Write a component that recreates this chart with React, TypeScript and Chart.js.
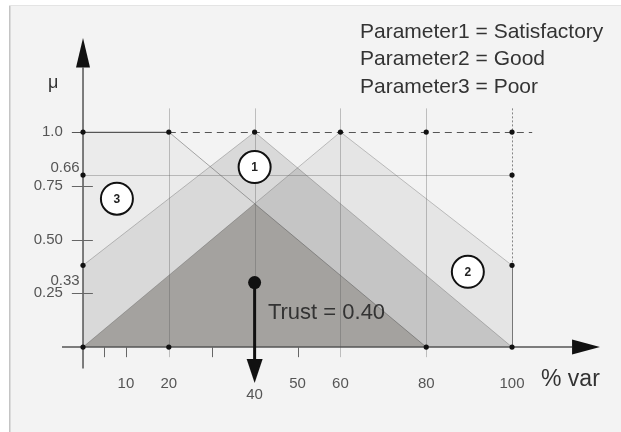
import { useEffect, useRef } from "react";
import { Chart, registerables } from "chart.js";
Chart.register(...registerables);

// Membership functions (x = % var, y = μ)
const poorX = [0, 20, 80];
const poorY = [1, 1, 0];
const satX = [0, 40, 100];
const satY = [0.38, 1, 0];
const goodX = [0, 60, 100];
const goodY = [0, 1, 0.38];

const xLabelValues = [10, 20, 40, 50, 60, 80, 100];
const xLabelTexts = ["10", "20", "40", "50", "60", "80", "100"];
const xMinorTicks = [5, 10, 30, 50];
const xGridValues = [20, 40, 60, 80];
const yTickValues = [1, 0.75, 0.5, 0.25];
const yTickLabels = ["1.0", "0.75", "0.50", "0.25"];
const yMarkValues = [0.835, 0.31];
const yMarkLabels = ["0.66", "0.33"];
const refLineY = 0.8;
const dotX = [0, 20, 40, 60, 80, 100, 0, 100, 0, 100, 0, 20, 80, 100];
const dotY = [1, 1, 1, 1, 1, 1, 0.8, 0.8, 0.38, 0.38, 0, 0, 0, 0];
const trustX = 40;
const trustY = 0.3;
const trustTip = -0.167;
const trustLabel = "Trust = 0.40";
const circleLabels = ["1", "2", "3"];
const circleX = [40, 89.7, 7.9];
const circleY = [0.837, 0.35, 0.69];
const legendLines = ["Parameter1 = Satisfactory", "Parameter2 = Good", "Parameter3 = Poor"];

type P = { x: number; y: number };

function evalFn(xs: number[], ys: number[], x: number): number {
  if (x < xs[0] || x > xs[xs.length - 1]) return 0;
  for (let i = 0; i < xs.length - 1; i++) {
    if (x >= xs[i] && x <= xs[i + 1]) {
      const t = (x - xs[i]) / (xs[i + 1] - xs[i]);
      return ys[i] + t * (ys[i + 1] - ys[i]);
    }
  }
  return 0;
}

// exact lower envelope (intersection region) of several piecewise-linear memberships
function minPolygon(fns: [number[], number[]][], lo: number, hi: number): P[] {
  const f = (x: number) => Math.min(...fns.map(([xs, ys]) => evalFn(xs, ys, x)));
  let bps: number[] = [lo, hi];
  fns.forEach(([xs]) => xs.forEach((x) => { if (x >= lo && x <= hi) bps.push(x); }));
  bps = Array.from(new Set(bps)).sort((a, b) => a - b);
  const extra: number[] = [];
  for (let i = 0; i < bps.length - 1; i++) {
    const a = bps[i], b = bps[i + 1];
    for (let p = 0; p < fns.length; p++) {
      for (let q = p + 1; q < fns.length; q++) {
        const da = evalFn(fns[p][0], fns[p][1], a) - evalFn(fns[q][0], fns[q][1], a);
        const db = evalFn(fns[p][0], fns[p][1], b) - evalFn(fns[q][0], fns[q][1], b);
        if (da * db < 0) extra.push(a + (b - a) * (da / (da - db)));
      }
    }
  }
  const all = Array.from(new Set(bps.concat(extra))).sort((a, b) => a - b);
  return all.map((x) => ({ x, y: f(x) }));
}

const toPts = (xs: number[], ys: number[]): P[] => xs.map((x, i) => ({ x, y: ys[i] }));

const FONT = '"Liberation Sans", Arial, sans-serif';

const decor = {
  id: "decor",
  beforeDraw(chart: any) {
    const ctx = chart.ctx;
    const { width, height } = chart;
    ctx.save();
    ctx.fillStyle = "#ffffff";
    ctx.fillRect(0, 0, width, height);
    ctx.fillStyle = "#f3f3f3";
    ctx.fillRect(9, 5, width - 9, height - 5);
    ctx.fillStyle = "#c4c4c4";
    ctx.fillRect(9, 5, 1.5, height - 5);
    ctx.fillStyle = "#e4e4e4";
    ctx.fillRect(9, 5, width - 9, 1);
    ctx.restore();
  },
  afterDatasetsDraw(chart: any) {
    const ctx = chart.ctx;
    const xs = chart.scales.x;
    const ys = chart.scales.y;
    const px = (v: number) => xs.getPixelForValue(v);
    const py = (v: number) => ys.getPixelForValue(v);
    ctx.save();

    // vertical grid lines
    ctx.strokeStyle = "rgba(90,90,90,0.35)";
    ctx.lineWidth = 1;
    xGridValues.forEach((v) => {
      ctx.beginPath();
      ctx.moveTo(Math.round(px(v)) + 0.5, py(1.11));
      ctx.lineTo(Math.round(px(v)) + 0.5, py(-0.047));
      ctx.stroke();
    });
    // x = 100 dotted above, solid below
    ctx.setLineDash([2, 2]);
    ctx.strokeStyle = "rgba(60,60,60,0.6)";
    ctx.beginPath();
    ctx.moveTo(Math.round(px(100)) + 0.5, py(1.11));
    ctx.lineTo(Math.round(px(100)) + 0.5, py(goodY[2]));
    ctx.stroke();
    ctx.setLineDash([]);
    ctx.strokeStyle = "#777";
    ctx.beginPath();
    ctx.moveTo(Math.round(px(100)) + 0.5, py(goodY[2]));
    ctx.lineTo(Math.round(px(100)) + 0.5, py(0));
    ctx.stroke();

    // reference horizontal line
    ctx.strokeStyle = "rgba(90,90,90,0.35)";
    ctx.beginPath();
    ctx.moveTo(px(0), Math.round(py(refLineY)) + 0.5);
    ctx.lineTo(px(100), Math.round(py(refLineY)) + 0.5);
    ctx.stroke();

    // y = 1 line: solid then dashed
    ctx.strokeStyle = "#555";
    ctx.beginPath();
    ctx.moveTo(px(-2.6), Math.round(py(1)) + 0.5);
    ctx.lineTo(px(20), Math.round(py(1)) + 0.5);
    ctx.stroke();
    ctx.setLineDash([7, 5]);
    ctx.beginPath();
    ctx.moveTo(px(20), Math.round(py(1)) + 0.5);
    ctx.lineTo(px(104.7), Math.round(py(1)) + 0.5);
    ctx.stroke();
    ctx.setLineDash([]);

    // axes
    ctx.strokeStyle = "#555";
    ctx.fillStyle = "#111";
    ctx.lineWidth = 1.5;
    ctx.beginPath();
    ctx.moveTo(px(0), py(-0.1));
    ctx.lineTo(px(0), py(1.3));
    ctx.stroke();
    ctx.beginPath();
    ctx.moveTo(px(0), py(1.437));
    ctx.lineTo(px(0) - 7, py(1.3));
    ctx.lineTo(px(0) + 7, py(1.3));
    ctx.closePath();
    ctx.fill();
    ctx.beginPath();
    ctx.moveTo(px(-4.9), py(0));
    ctx.lineTo(px(114), py(0));
    ctx.stroke();
    ctx.beginPath();
    ctx.moveTo(px(120.5), py(0));
    ctx.lineTo(px(114), py(0) - 7.5);
    ctx.lineTo(px(114), py(0) + 7.5);
    ctx.closePath();
    ctx.fill();

    // y ticks
    ctx.lineWidth = 1;
    ctx.strokeStyle = "#666";
    yTickValues.slice(1).forEach((v) => {
      ctx.beginPath();
      ctx.moveTo(px(-2.6), Math.round(py(v)) + 0.5);
      ctx.lineTo(px(2.3), Math.round(py(v)) + 0.5);
      ctx.stroke();
    });
    // x minor ticks
    xMinorTicks.forEach((v) => {
      ctx.beginPath();
      ctx.moveTo(Math.round(px(v)) + 0.5, py(0));
      ctx.lineTo(Math.round(px(v)) + 0.5, py(-0.047));
      ctx.stroke();
    });

    // dots
    ctx.fillStyle = "#111";
    dotX.forEach((x, i) => {
      ctx.beginPath();
      ctx.arc(px(x), py(dotY[i]), 2.6, 0, Math.PI * 2);
      ctx.fill();
    });

    // trust arrow
    ctx.strokeStyle = "#111";
    ctx.lineWidth = 3;
    ctx.beginPath();
    ctx.moveTo(px(trustX), py(trustY));
    ctx.lineTo(px(trustX), py(trustTip) - 20);
    ctx.stroke();
    ctx.beginPath();
    ctx.moveTo(px(trustX), py(trustTip));
    ctx.lineTo(px(trustX) - 8, py(trustTip) - 24);
    ctx.lineTo(px(trustX) + 8, py(trustTip) - 24);
    ctx.closePath();
    ctx.fill();
    ctx.beginPath();
    ctx.arc(px(trustX), py(trustY), 6.5, 0, Math.PI * 2);
    ctx.fill();

    // circles
    circleLabels.forEach((t, i) => {
      const cx = px(circleX[i]);
      const cy = py(circleY[i]);
      ctx.beginPath();
      ctx.arc(cx, cy, 16, 0, Math.PI * 2);
      ctx.fillStyle = "#ffffff";
      ctx.fill();
      ctx.lineWidth = 2;
      ctx.strokeStyle = "#111";
      ctx.stroke();
      ctx.fillStyle = "#222";
      ctx.font = `bold 12px ${FONT}`;
      ctx.textAlign = "center";
      ctx.textBaseline = "middle";
      ctx.fillText(t, cx, cy + 1);
    });

    // labels
    ctx.fillStyle = "#555";
    ctx.font = `15px ${FONT}`;
    ctx.textAlign = "center";
    ctx.textBaseline = "middle";
    xLabelValues.forEach((v, i) => {
      ctx.fillText(xLabelTexts[i], px(v), v === trustX ? py(-0.223) : py(-0.172));
    });
    ctx.textAlign = "right";
    yTickValues.forEach((v, i) => {
      ctx.fillText(yTickLabels[i], px(-4.7), py(v));
    });
    yMarkValues.forEach((v, i) => {
      ctx.fillText(yMarkLabels[i], px(-0.8), py(v));
    });

    ctx.fillStyle = "#333";
    ctx.textAlign = "left";
    ctx.font = `18px ${FONT}`;
    ctx.fillText("\u03bc", 48, 83);
    ctx.font = `23px ${FONT}`;
    ctx.fillText("% var", 541, 380);
    ctx.font = `22px ${FONT}`;
    ctx.fillText(trustLabel, px(43.1), py(0.158));
    ctx.font = `21px ${FONT}`;
    legendLines.forEach((t, i) => {
      ctx.fillText(t, 360, 32 + i * 27.5);
    });
    ctx.restore();
  },
};

export default function App() {
  const ref = useRef<HTMLCanvasElement>(null);
  useEffect(() => {
    if (!ref.current) return;
    const poor = toPts(poorX, poorY);
    const sat = toPts(satX, satY);
    const good = toPts(goodX, goodY);
    const satGood = minPolygon([[satX, satY], [goodX, goodY]], 0, 100);
    const allThree = minPolygon([[poorX, poorY], [satX, satY], [goodX, goodY]], 0, 100);
    const fillDs = (data: P[], color: string, layer: number) => ({
      type: "line" as const,
      data,
      showLine: true,
      fill: "origin",
      backgroundColor: color,
      borderWidth: 0,
      borderColor: "rgba(0,0,0,0)",
      pointRadius: 0,
      order: 100 - layer,
    });
    const edgeDs = (data: P[], color: string, layer: number) => ({
      type: "line" as const,
      data,
      showLine: true,
      fill: false,
      borderColor: color,
      borderWidth: 1,
      pointRadius: 0,
      order: 100 - layer,
    });
    const chart = new Chart(ref.current, {
      type: "scatter",
      data: {
        datasets: [
          fillDs(poor, "#ebebeb", 0),
          fillDs(sat, "#d9d9d9", 1),
          fillDs(good, "#e5e5e5", 2),
          fillDs(satGood, "#c5c5c5", 3),
          fillDs(allThree, "#a4a29f", 4),
          edgeDs(poor, "rgba(70,70,70,0.45)", 5),
          edgeDs(sat, "rgba(70,70,70,0.3)", 6),
          edgeDs(good, "rgba(70,70,70,0.3)", 7),
        ] as any,
      },
      options: {
        animation: false,
        responsive: false,
        events: [],
        layout: { padding: 0 },
        plugins: { legend: { display: false }, tooltip: { enabled: false } },
        scales: {
          x: { type: "linear", display: false, min: -19.35, max: 125.4 },
          y: { type: "linear", display: false, min: -0.395, max: 1.614 },
        },
      },
      plugins: [decor],
    });
    return () => chart.destroy();
  }, []);
  return (
    <div style={{ position: "fixed", left: 0, top: 0, width: 621, height: 432 }}>
      <canvas ref={ref} width={621} height={432} />
    </div>
  );
}
